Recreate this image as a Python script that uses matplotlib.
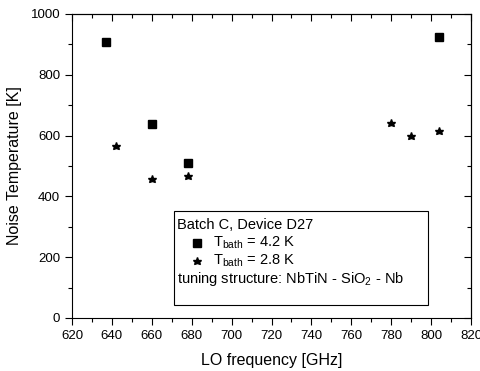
import matplotlib.pyplot as plt
from matplotlib.patches import Rectangle
from matplotlib.ticker import MultipleLocator, NullFormatter

plt.rcParams['font.family'] = 'Liberation Sans'
plt.rcParams['mathtext.fontset'] = 'custom'
plt.rcParams['mathtext.rm'] = 'Liberation Sans'

# LO frequency [GHz] and noise temperature [K]
f_42 = [637, 660, 678, 804]
t_42 = [907, 639, 509, 925]
f_28 = [642, 660, 678, 780, 790, 804]
t_28 = [565, 457, 468, 640, 598, 616]

fig = plt.figure(figsize=(4.81, 3.71), dpi=100)
ax = fig.add_axes([0.1497, 0.1429, 0.8295, 0.8194])

ax.plot(f_42, t_42, 's', color='black', markersize=5.3, linestyle='none')
ax.plot(f_28, t_28, '*', color='black', markersize=6.2, linestyle='none')

ax.set_xlim(620, 820)
ax.set_ylim(0, 1000)
ax.xaxis.set_major_locator(MultipleLocator(20))
ax.xaxis.set_minor_locator(MultipleLocator(10))
ax.yaxis.set_major_locator(MultipleLocator(200))
ax.yaxis.set_minor_locator(MultipleLocator(100))
ax.tick_params(which='both', direction='out', labelsize=9.5, width=0.8)
ax.tick_params(which='major', length=5)
ax.tick_params(which='minor', length=3)

# mirrored ticks on top and right, pointing inward
top = ax.secondary_xaxis('top')
right = ax.secondary_yaxis('right')
for sec, axis, major, minor in ((top, top.xaxis, 20, 10), (right, right.yaxis, 200, 100)):
    axis.set_major_locator(MultipleLocator(major))
    axis.set_minor_locator(MultipleLocator(minor))
    axis.set_major_formatter(NullFormatter())
    axis.set_minor_formatter(NullFormatter())
    sec.tick_params(which='both', direction='in', width=0.8)
    sec.tick_params(which='major', length=5)
    sec.tick_params(which='minor', length=3)

ax.set_xlabel('LO frequency [GHz]', fontsize=11.5, labelpad=8)
ax.set_ylabel('Noise Temperature [K]', fontsize=11.5, labelpad=6)

# legend box
x0, x1 = 671, 798.5
y0, y1 = 43, 352
ax.add_patch(Rectangle((x0, y0), x1 - x0, y1 - y0, fill=False,
                       edgecolor='black', linewidth=0.8))
fs = 10.5
ax.text(672.5, 306, 'Batch C, Device D27', fontsize=fs, va='center')
ax.plot([682.5], [247], 's', color='black', markersize=5.3, clip_on=False)
ax.text(690.5, 247, r'T$_{\rm bath}$ = 4.2 K', fontsize=fs, va='center')
ax.plot([682.5], [187], '*', color='black', markersize=6.2, clip_on=False)
ax.text(690.5, 187, r'T$_{\rm bath}$ = 2.8 K', fontsize=fs, va='center')
ax.text(672.5, 127, r'tuning structure: NbTiN - SiO$_2$ - Nb', fontsize=fs, va='center')

fig.savefig('out.png', dpi=100)
